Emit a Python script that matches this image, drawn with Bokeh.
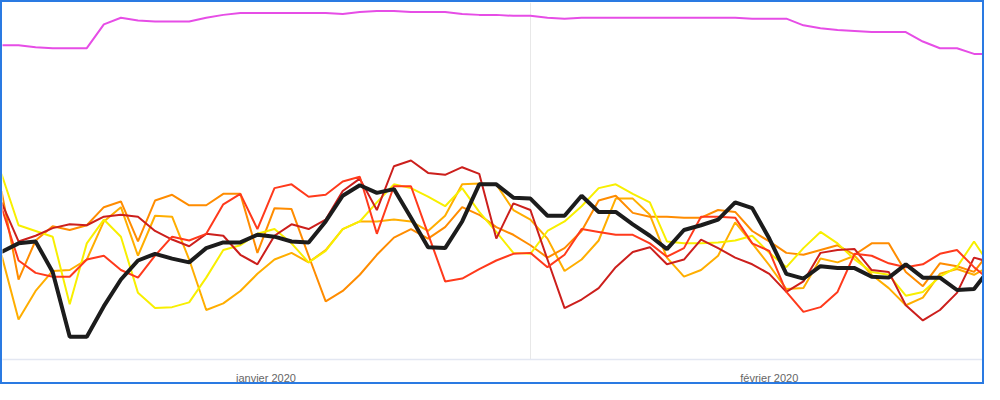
from bokeh.plotting import figure
from bokeh.models import Range1d, FixedTicker
from bokeh.embed import file_html
from bokeh.resources import INLINE

# day index 0 = 1 Jan 2020
days = list(range(59))

magenta = [330,330,328,327,327,327,352,359,356,355, 355,355,359,362,364,364,364,364,364,364,
           363,365,366,366,365,365,365,363,362,362, 361,361,359,358,359,359,359,359,359,359,
           359,359,359,359,358,358,358,351,348,346, 345,344,344,344,334,327,327,321,321]
yellow = [195,141,135,129,58,122,147,129,70,54, 55,60,86,115,120,132,137,122,102,114,
          137,145,165,184,180,171,161,180,155,134, 112,111,135,145,161,180,184,174,165,124,
          122,122,123,125,130,112,97,117,134,122, 105,92,89,67,71,87,97,124,97]
orange_a = [177,84,125,140,136,141,160,166,124,167, 173,162,162,174,174,112,159,158,109,61,
            72,89,110,128,137,127,139,160,152,139, 131,120,107,117,135,167,172,154,150,150,
            149,149,157,155,135,124,112,110,115,120, 110,122,122,92,77,101,98,92,115]
orange_b = [110,42,72,93,94,105,145,160,109,151, 150,105,52,59,72,90,105,112,102,115,
            137,145,145,147,145,135,151,184,185,184, 157,147,127,93,105,125,169,169,152,107,
            87,94,109,144,122,99,74,75,106,102, 109,89,75,57,65,90,95,89,99]
red = [160,104,91,87,87,105,109,94,86,109, 129,125,132,163,174,137,180,184,171,173,
       187,192,132,182,182,132,82,85,95,104, 111,112,97,110,137,134,131,131,122,108,
       117,150,150,149,122,114,71,50,55,71, 111,109,101,97,100,111,115,97,82]
dark_red = [165,124,130,138,142,141,150,152,150,135, 126,119,132,130,110,100,130,142,137,147,
            177,190,157,203,209,196,194,202,195,127, 164,157,105,54,63,75,97,113,118,100,
            105,126,117,107,100,90,71,82,112,115, 116,94,92,57,41,52,70,107,102]
black = [113,122,124,92,24,24,56,84,104,111, 106,102,117,123,123,131,129,124,123,145,
         172,183,175,179,149,118,117,145,184,184, 170,169,151,151,172,155,155,142,130,116,
         136,141,147,165,159,127,90,85,98,96, 96,87,86,100,86,86,73,74,97]

tick_days = [15.5, 45]
tick_labels = ["janvier 2020", "février 2020"]
month_start = [31]

p = figure(width=984, height=384, output_backend="svg", toolbar_location=None,
           x_range=Range1d(0.06, 57.73), y_range=Range1d(0, 375),
           y_axis_location=None,
           min_border_left=0, min_border_right=0, min_border_top=0, min_border_bottom=20,
           outline_line_color=None, background_fill_color="white", border_fill_color="white",
           styles={"border": "2px solid #2a7ae2", "box-sizing": "border-box"})

p.xaxis.ticker = FixedTicker(ticks=tick_days)
p.xaxis.major_label_overrides = {t: l for t, l in zip(tick_days, tick_labels)}
p.xaxis.axis_line_color = "#e3e7f2"
p.xaxis.axis_line_width = 1.5
p.xaxis.major_tick_line_color = None
p.xaxis.minor_tick_line_color = None
p.xaxis.major_label_text_font = "Liberation Sans"
p.xaxis.major_label_text_font_size = "11px"
p.xaxis.major_label_text_color = "#666666"
p.xaxis.major_label_standoff = 6

p.xgrid.ticker = FixedTicker(ticks=month_start)
p.xgrid.grid_line_color = "#e8e8e8"
p.ygrid.visible = False

p.line(days, magenta, line_color="#e64de6", line_width=2)
p.line(days, orange_b, line_color="#ffae00", line_width=2)
p.line(days, orange_a, line_color="#ff8c00", line_width=2)
p.line(days, yellow, line_color="#f8ef00", line_width=2)
p.line(days, dark_red, line_color="#cc1f1c", line_width=2)
p.line(days, red, line_color="#ff3a1c", line_width=2)
p.line(days, black, line_color="#1c1c1c", line_width=4)

open("out.html", "w").write(file_html(p, INLINE, title="chart"))
